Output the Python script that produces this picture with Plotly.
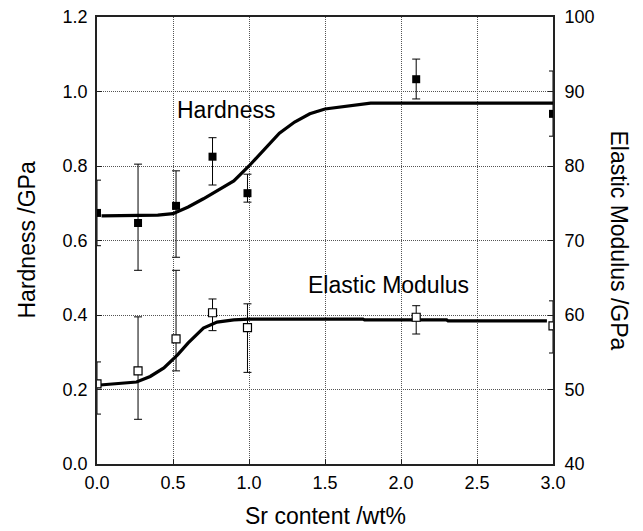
import plotly.graph_objects as go

# ---- data ----
sr_points = [0.0, 0.27, 0.52, 0.76, 0.99, 2.10, 3.00]

hardness = [0.674, 0.647, 0.693, 0.825, 0.727, 1.033, 0.940]
hardness_err_plus = [0.088, 0.158, 0.094, 0.051, 0.051, 0.054, 0.115]
hardness_err_minus = [0.088, 0.127, 0.138, 0.076, 0.024, 0.053, 0.060]

modulus = [50.75, 52.5, 56.8, 60.3, 58.3, 59.7, 58.55]
modulus_err_plus = [2.95, 7.25, 9.2, 1.85, 3.2, 1.55, 3.35]
modulus_err_minus = [4.05, 6.5, 4.3, 2.4, 6.0, 2.25, 3.65]

hardness_fit_x = [0.03, 0.2, 0.4, 0.5, 0.6, 0.7, 0.8, 0.9, 1.0, 1.1, 1.2, 1.3, 1.4, 1.5, 1.6, 1.7, 1.8, 3.0]
hardness_fit_y = [0.666, 0.666, 0.668, 0.672, 0.69, 0.712, 0.735, 0.76, 0.80, 0.843, 0.888, 0.918, 0.940, 0.953, 0.958, 0.964, 0.969, 0.969]

modulus_fit_x = [0.02, 0.26, 0.35, 0.44, 0.53, 0.6, 0.7, 0.79, 0.9, 1.0, 1.75, 1.76, 2.3, 2.31, 2.96]
modulus_fit_y = [50.6, 51.0, 51.75, 52.9, 54.65, 56.25, 58.25, 59.05, 59.35, 59.45, 59.45, 59.35, 59.35, 59.2, 59.2]

x_ticks = [0.0, 0.5, 1.0, 1.5, 2.0, 2.5, 3.0]
y_ticks = [0.0, 0.2, 0.4, 0.6, 0.8, 1.0, 1.2]
y2_ticks = [40, 50, 60, 70, 80, 90, 100]

FONT = "Arial, Liberation Sans, Helvetica, sans-serif"

fig = go.Figure()

fig.add_trace(go.Scatter(
    x=hardness_fit_x, y=hardness_fit_y, mode="lines",
    line=dict(color="black", width=3.2), yaxis="y", showlegend=False))
fig.add_trace(go.Scatter(
    x=modulus_fit_x, y=modulus_fit_y, mode="lines",
    line=dict(color="black", width=3.2), yaxis="y2", showlegend=False))

fig.add_trace(go.Scatter(
    x=sr_points, y=hardness, mode="markers", yaxis="y",
    marker=dict(symbol="square", size=8, color="black"),
    error_y=dict(type="data", symmetric=False, array=hardness_err_plus,
                 arrayminus=hardness_err_minus, color="black", thickness=1, width=4),
    showlegend=False))
fig.add_trace(go.Scatter(
    x=sr_points, y=modulus, mode="markers", yaxis="y2",
    marker=dict(symbol="square", size=8, color="white", line=dict(color="black", width=1.2)),
    error_y=dict(type="data", symmetric=False, array=modulus_err_plus,
                 arrayminus=modulus_err_minus, color="black", thickness=1, width=4),
    showlegend=False))

fig.add_annotation(x=0.515, y=0.95, xref="x", yref="y", text="Hardness",
                   showarrow=False, xanchor="left", yanchor="middle",
                   font=dict(family=FONT, size=23, color="black"))
fig.add_annotation(x=1.373, y=0.48, xref="x", yref="y", text="Elastic Modulus",
                   showarrow=False, xanchor="left", yanchor="middle",
                   font=dict(family=FONT, size=23, color="black"))

# axis titles (placed relative to the plot area)
fig.add_annotation(x=0.5, y=0, yshift=-52, xref="paper", yref="paper",
                   text="Sr content /wt%", showarrow=False,
                   xanchor="center", yanchor="middle",
                   font=dict(family=FONT, size=23, color="black"))
fig.add_annotation(x=0, xshift=-71, y=0.5, xref="paper", yref="paper",
                   text="Hardness /GPa", textangle=-90, showarrow=False,
                   xanchor="center", yanchor="middle",
                   font=dict(family=FONT, size=23, color="black"))
fig.add_annotation(x=1.0, xshift=66, y=0.5, xref="paper", yref="paper",
                   text="Elastic Modulus /GPa", textangle=90, showarrow=False,
                   xanchor="center", yanchor="middle",
                   font=dict(family=FONT, size=23, color="black"))

axis_common = dict(
    showline=True, linecolor="#222", linewidth=1.6,
    showgrid=True, gridcolor="#555", griddash="1px,1px", gridwidth=1,
    ticks="inside", ticklen=5, tickcolor="#222", automargin=False,
    zeroline=False, tickfont=dict(family=FONT, size=18, color="black"),
)

fig.update_layout(
    width=643, height=531,
    margin=dict(l=97, r=90, t=17, b=67),
    paper_bgcolor="white", plot_bgcolor="white",
    font=dict(family=FONT, color="black"),
    xaxis=dict(range=[0, 3.0], tickvals=x_ticks, ticktext=[f"{v:.1f}" for v in x_ticks],
               mirror=True, ticklabelstandoff=2, **axis_common),
    yaxis=dict(range=[0, 1.2], tickvals=y_ticks, ticktext=[f"{v:.1f}" for v in y_ticks],
               ticklabelstandoff=4, **axis_common),
    yaxis2=dict(range=[40, 100], tickvals=y2_ticks, overlaying="y", side="right",
                showline=True, linecolor="#222", linewidth=1.6, showgrid=False,
                ticks="inside", ticklen=5, tickcolor="#222", zeroline=False,
                ticklabelstandoff=6, automargin=False,
                tickfont=dict(family=FONT, size=18, color="black")),
)

fig.write_html("out.html")
